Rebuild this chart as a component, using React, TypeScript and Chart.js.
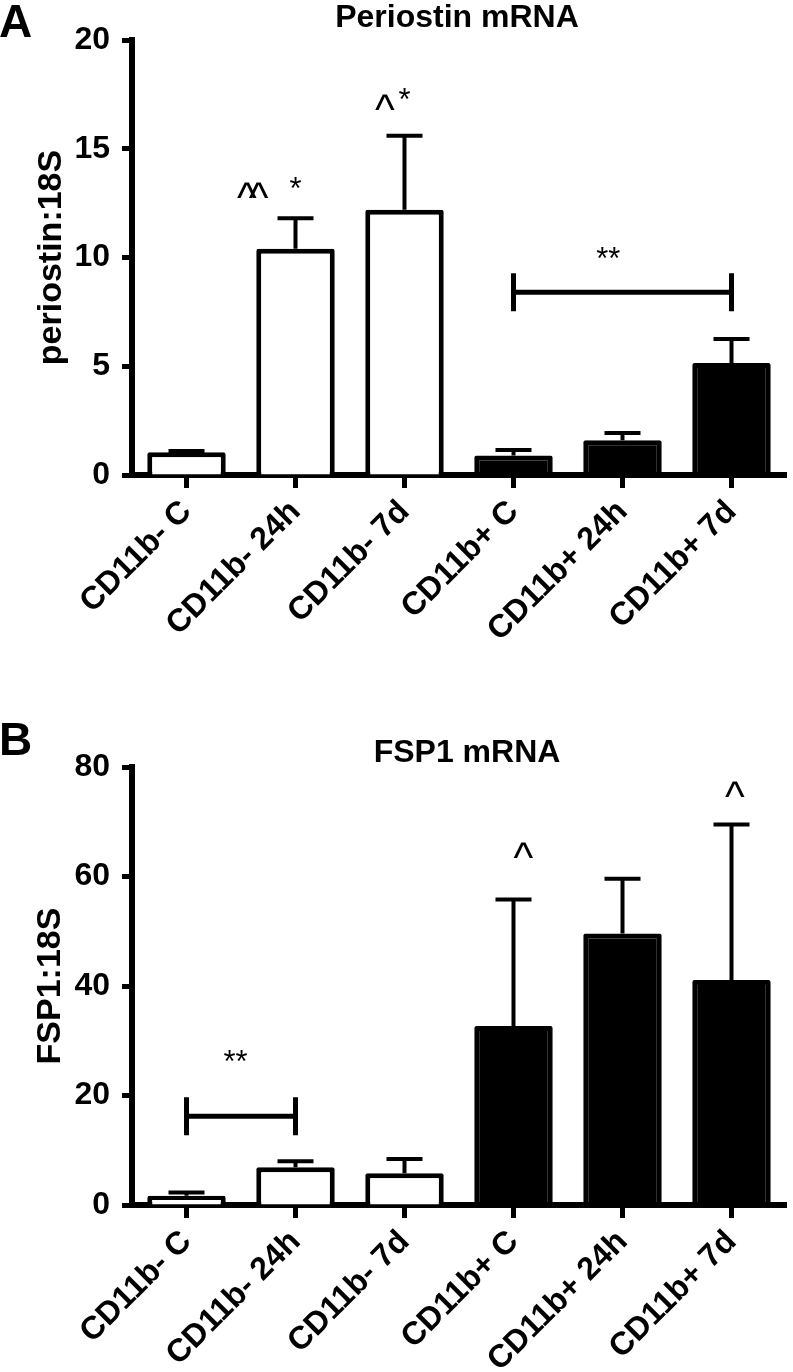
import React, { useEffect, useRef } from 'react';
import { Chart, registerables } from 'chart.js';

Chart.register(...registerables);

// ---------- data ----------
const categories = ['CD11b- C', 'CD11b- 24h', 'CD11b- 7d', 'CD11b+ C', 'CD11b+ 24h', 'CD11b+ 7d'];
const barFill = ['#ffffff', '#ffffff', '#ffffff', '#000000', '#000000', '#000000'];

const periostinMean = [1.05, 10.4, 12.2, 0.9, 1.6, 5.15];
const periostinErr = [0.05, 1.4, 3.4, 0.25, 0.33, 1.1];
const periostinTicks = { max: 20, step: 5 };

const fsp1Mean = [1.7, 6.9, 5.8, 32.7, 49.6, 41.1];
const fsp1Err = [0.6, 1.1, 2.6, 23.1, 10.0, 28.4];
const fsp1Ticks = { max: 80, step: 20 };

type Mark = { text: string; at: number; value: number };
type Bracket = { from: number; to: number; value: number };

const periostinMarks: Mark[] = [
  { text: '^^', at: 0.57, value: 13.1 },
  { text: '*', at: 1.0, value: 13.5 },
  { text: '^', at: 1.82, value: 17.15 },
  { text: '*', at: 2.0, value: 17.6 },
  { text: '**', at: 3.87, value: 10.3 },
];
const periostinBrackets: Bracket[] = [{ from: 3, to: 5, value: 8.4 }];

const fsp1Marks: Mark[] = [
  { text: '**', at: 0.45, value: 27.6 },
  { text: '^', at: 3.09, value: 64.9 },
  { text: '^', at: 5.03, value: 76 },
];
const fsp1Brackets: Bracket[] = [{ from: 0, to: 1, value: 16.2 }];

// ---------- styling ----------
const SANS = '"Liberation Sans", Arial, Helvetica, sans-serif';
const NARROW = '"Liberation Sans Narrow", "Arial Narrow", "Liberation Sans", sans-serif';

interface PanelProps {
  top: number;
  height: number;
  letter: string;
  letterBaseline: number;
  title: string;
  titleX: number;
  titleBaseline: number;
  yTitle: string;
  yTitleX: number;
  means: number[];
  errs: number[];
  ticks: { max: number; step: number };
  marks: Mark[];
  brackets: Bracket[];
  padTop: number;
  xHeight: number;
}

function Panel(p: PanelProps) {
  const ref = useRef<HTMLCanvasElement>(null);

  useEffect(() => {
    const canvas = ref.current;
    if (!canvas) return;

    const overlay = {
      id: 'overlay',
      afterDatasetsDraw(chart: any) {
        const ctx = chart.ctx as CanvasRenderingContext2D;
        const xs = chart.scales.x;
        const ys = chart.scales.y;
        const meta = chart.getDatasetMeta(0);
        ctx.save();
        ctx.strokeStyle = '#000';
        ctx.lineCap = 'butt';
        // error bars (upper only)
        ctx.lineWidth = 4;
        p.means.forEach((m, i) => {
          const bx = meta.data[i].x;
          const y0 = ys.getPixelForValue(m);
          const y1 = ys.getPixelForValue(m + p.errs[i]);
          ctx.beginPath();
          ctx.moveTo(bx, y0);
          ctx.lineTo(bx, y1);
          ctx.moveTo(bx - 18, y1);
          ctx.lineTo(bx + 18, y1);
          ctx.stroke();
        });
        // significance brackets
        ctx.lineWidth = 5;
        p.brackets.forEach((b) => {
          const x0 = xs.getPixelForValue(b.from);
          const x1 = xs.getPixelForValue(b.to);
          const yb = ys.getPixelForValue(b.value);
          ctx.beginPath();
          ctx.moveTo(x0, yb);
          ctx.lineTo(x1, yb);
          ctx.moveTo(x0, yb - 19);
          ctx.lineTo(x0, yb + 19);
          ctx.moveTo(x1, yb - 19);
          ctx.lineTo(x1, yb + 19);
          ctx.stroke();
        });
        // marks
        ctx.fillStyle = '#000';
        ctx.textAlign = 'center';
        ctx.textBaseline = 'alphabetic';
        p.marks.forEach((mk) => {
          const mx = xs.getPixelForValue(mk.at);
          const my = ys.getPixelForValue(mk.value);
          if (mk.text.includes('^')) {
            const size = 42;
            ctx.font = `normal ${size}px ${SANS}`;
            (ctx as any).letterSpacing = mk.text.length > 1 ? '-8px' : '0px';
            ctx.fillText(mk.text, mx, my + 0.53 * size);
          } else {
            const size = 31;
            ctx.font = `normal ${size}px ${SANS}`;
            (ctx as any).letterSpacing = '0px';
            ctx.fillText(mk.text, mx, my + 0.57 * size);
          }
        });
        (ctx as any).letterSpacing = '0px';
        ctx.restore();
      },
      afterDraw(chart: any) {
        const ctx = chart.ctx as CanvasRenderingContext2D;
        const area = chart.chartArea;
        ctx.save();
        ctx.fillStyle = '#000';
        // panel letter
        ctx.font = `bold 46px ${SANS}`;
        ctx.textAlign = 'left';
        ctx.textBaseline = 'alphabetic';
        ctx.fillText(p.letter, -1, p.letterBaseline);
        // title
        ctx.font = `bold 32px ${SANS}`;
        ctx.textAlign = 'center';
        ctx.fillText(p.title, p.titleX, p.titleBaseline);
        // y axis title
        ctx.translate(p.yTitleX, (area.top + area.bottom) / 2);
        ctx.rotate(-Math.PI / 2);
        ctx.font = `bold 34px ${SANS}`;
        ctx.textAlign = 'center';
        ctx.fillText(p.yTitle, 0, 0);
        ctx.restore();
      },
    };

    const chart = new Chart(canvas, {
      type: 'bar',
      data: {
        labels: categories,
        datasets: [
          {
            data: p.means,
            backgroundColor: barFill,
            borderColor: '#000',
            borderWidth: 5,
            borderRadius: 2,
            barPercentage: 0.72,
            categoryPercentage: 1,
          },
        ],
      },
      options: {
        responsive: false,
        animation: false,
        events: [],
        layout: { padding: { top: p.padTop, right: 7, left: 0, bottom: 0 } },
        plugins: {
          legend: { display: false },
          tooltip: { enabled: false },
          title: { display: false },
        },
        scales: {
          x: {
            type: 'category',
            offset: true,
            grid: {
              display: true,
              offset: false,
              drawOnChartArea: false,
              drawTicks: true,
              tickLength: 13,
              tickWidth: 5,
              tickColor: '#000',
            },
            border: { display: true, width: 6, color: '#000' },
            ticks: {
              color: '#000',
              autoSkip: false,
              minRotation: 45,
              maxRotation: 45,
              padding: 5,
              font: { family: SANS, size: 32, weight: 'bold' },
            },
            afterFit: (s: any) => {
              s.height = p.xHeight;
            },
          },
          y: {
            min: 0,
            max: p.ticks.max,
            grid: {
              display: true,
              drawOnChartArea: false,
              drawTicks: true,
              tickLength: 10,
              tickWidth: 5,
              tickColor: '#000',
            },
            border: { display: true, width: 6, color: '#000' },
            ticks: {
              stepSize: p.ticks.step,
              color: '#000',
              padding: 12,
              font: { family: NARROW, size: 32, weight: 'bold' },
            },
            afterFit: (s: any) => {
              s.width = 132;
            },
          },
        },
      } as any,
      plugins: [overlay],
    });

    return () => chart.destroy();
  }, []);

  return (
    <canvas
      ref={ref}
      width={793}
      height={p.height}
      style={{ position: 'absolute', left: 0, top: p.top, width: 793, height: p.height }}
    />
  );
}

export default function App() {
  return (
    <div style={{ position: 'absolute', left: 0, top: 0, width: 793, height: 1372, background: '#fff' }}>
      <Panel
        top={0}
        height={640}
        letter="A"
        letterBaseline={37}
        title="Periostin mRNA"
        titleX={457}
        titleBaseline={27}
        yTitle="periostin:18S"
        yTitleX={61}
        means={periostinMean}
        errs={periostinErr}
        ticks={periostinTicks}
        marks={periostinMarks}
        brackets={periostinBrackets}
        padTop={40}
        xHeight={165}
      />
      <Panel
        top={690}
        height={682}
        letter="B"
        letterBaseline={65}
        title="FSP1 mRNA"
        titleX={467}
        titleBaseline={72}
        yTitle="FSP1:18S"
        yTitleX={60}
        means={fsp1Mean}
        errs={fsp1Err}
        ticks={fsp1Ticks}
        marks={fsp1Marks}
        brackets={fsp1Brackets}
        padTop={77}
        xHeight={167}
      />
    </div>
  );
}
